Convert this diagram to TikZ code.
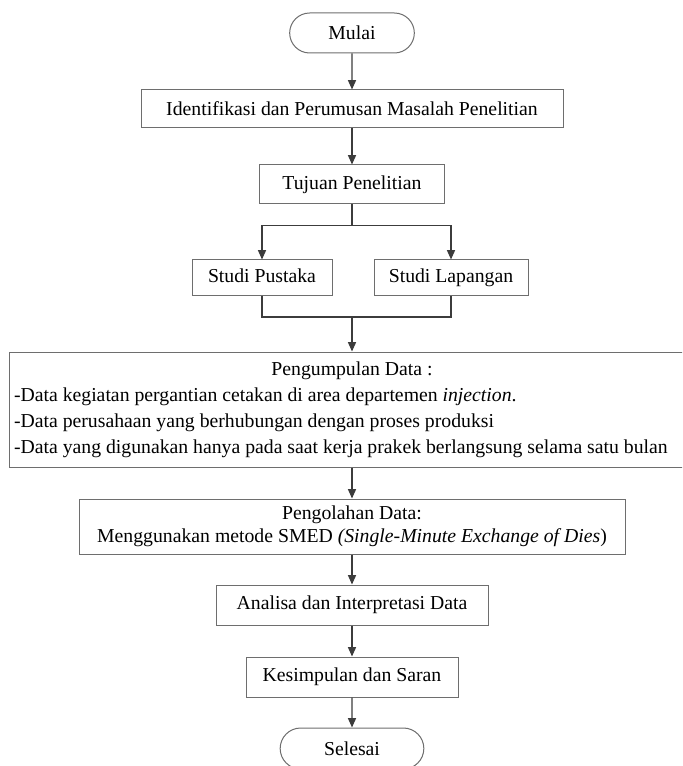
\documentclass[tikz,border=0pt]{standalone}
\usepackage{fontspec}
\setmainfont{Liberation Serif}
\usepackage{tikz}
\usetikzlibrary{shapes,arrows.meta,positioning,calc}
\definecolor{boxgray}{RGB}{110,110,110}
\definecolor{linegray}{RGB}{60,60,60}
\setlength{\parindent}{0pt}

\begin{document}
\begin{tikzpicture}[
        x=0.75pt, y=-0.75pt,
        font=\fontsize{14.8}{17}\selectfont,
        box/.style={draw=boxgray, line width=0.75pt, fill=white, rectangle, inner sep=2pt, align=center},
        studybox/.style={box, minimum height=26.25pt, text height=2.2ex, text depth=0.6ex},
        terminal/.style={draw=boxgray, line width=0.75pt, fill=white, rounded rectangle, inner sep=2pt},
        arrow/.style={line width=1pt, color=linegray, -{Triangle[width=6pt,length=7pt]}},
        link/.style={line width=1pt, color=linegray}
    ]
        \useasboundingbox (0,0) rectangle (682,766);
        \clip (0,0) rectangle (682,766);

        % Start
        \node[terminal, minimum width=97.5pt, minimum height=30pt] (mulai) at (352,33) {Mulai};

        % Problem and goal
        \node[box, minimum width=316.5pt, minimum height=28.5pt] (ident) at (352,109) {Identifikasi dan Perumusan Masalah Penelitian};
        \node[box, minimum width=138.75pt, minimum height=29.25pt] (tujuan) at (352,184.5) {Tujuan Penelitian};

        % Studies
        \node[studybox, minimum width=105pt] (pustaka) at (262,277.5) {Studi Pustaka};
        \node[studybox, minimum width=115.5pt] (lapangan) at (451,277.5) {Studi Lapangan};
        \coordinate (join) at (352,317);

        % Data collection
        \node[box, text width=507pt, minimum height=86.25pt, inner xsep=3.75pt, align=none,
              font=\fontsize{14.8}{19.5}\selectfont] (kumpul) at (352,409.5)
            {\centering Pengumpulan Data :\par
             \raggedright -Data kegiatan pergantian cetakan di area departemen \textit{injection}.\par
             -Data perusahaan yang berhubungan dengan proses produksi\par
             -Data yang digunakan hanya pada saat kerja prakek berlangsung selama satu bulan\par};

        % Processing and analysis
        \node[box, minimum width=409.5pt, minimum height=41.25pt] (olah) at (352,526.5) {Pengolahan Data:\\Menggunakan metode SMED \textit{(Single-Minute Exchange of Dies}\/)};
        \node[box, minimum width=204pt, minimum height=30pt] (analisa) at (352,605) {Analisa dan Interpretasi Data};
        \node[box, minimum width=159pt, minimum height=30pt] (simpul) at (352,677) {Kesimpulan dan Saran};

        % End
        \node[terminal, minimum width=111.75pt, minimum height=30.75pt] (selesai) at (352,748.5) {Selesai};

        % Connecting Arrows
        \draw[arrow] (mulai) -- (ident);
        \draw[arrow] (ident) -- (tujuan);
        \draw[arrow] (tujuan.south) -- ++(0,21) -| (pustaka.north);
        \draw[arrow] (tujuan.south) -- ++(0,21) -| (lapangan.north);
        \draw[link] (pustaka.south) |- (join) -| (lapangan.south);
        \draw[arrow] (join) -- (kumpul.north);
        \draw[arrow] (kumpul) -- (olah);
        \draw[arrow] (olah) -- (analisa);
        \draw[arrow] (analisa) -- (simpul);
        \draw[arrow] (simpul) -- (selesai);
    \end{tikzpicture}
\end{document}
